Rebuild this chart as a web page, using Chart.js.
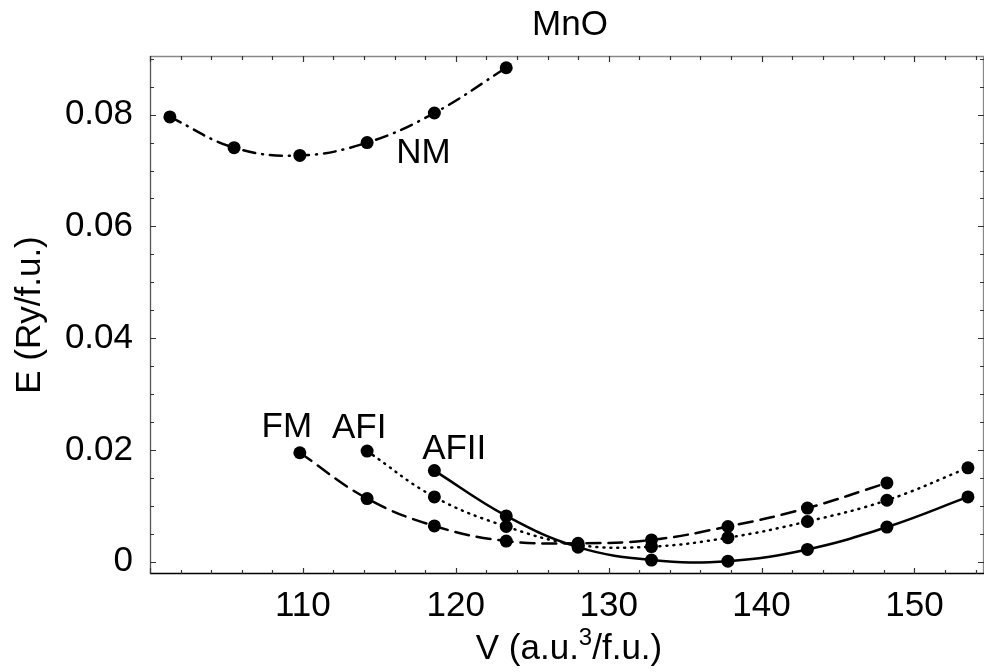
<!DOCTYPE html>
<html>
<head>
<meta charset="utf-8">
<script src="https://cdn.jsdelivr.net/npm/chart.js@4"></script>
<style>
  body { margin: 0; background: #fff; }
  #wrap { width: 984px; height: 672px; }
</style>
</head>
<body>
<div id="wrap"><canvas id="mnoChart" width="984" height="672"></canvas></div>
<script>
// volumes (a.u.^3/f.u.) and energies (Ry/f.u.)
var volNM = [101.3, 105.5, 109.8, 114.2, 118.6, 123.3];
var eNM = [0.0796, 0.0741, 0.0727, 0.0750, 0.0803, 0.0884];

var volFM = [109.8, 114.2, 118.6, 123.3, 128.0, 132.8, 137.8, 143.0, 148.2];
var eFM = [0.0195, 0.0113, 0.0064, 0.0037, 0.0033, 0.0039, 0.0063, 0.0096, 0.0141];

var volAFI = [114.2, 118.6, 123.3, 128.0, 132.8, 137.8, 143.0, 148.2, 153.5];
var eAFI = [0.0198, 0.0116, 0.0063, 0.0030, 0.0027, 0.0043, 0.0072, 0.0110, 0.0168];

var volAFII = [118.6, 123.3, 128.0, 132.8, 137.8, 143.0, 148.2, 153.5];
var eAFII = [0.0163, 0.0082, 0.0026, 0.0003, 0.0001, 0.0022, 0.0062, 0.0116];

var xTicks = [110, 120, 130, 140, 150];
var yTicks = [0, 0.02, 0.04, 0.06, 0.08];

// curve labels: [text, V, E] (left end / baseline of the text)
var curveLabels = [
    ['NM', 116.1, 0.0713],
    ['FM', 107.3, 0.0223],
    ['AFI', 111.9, 0.0221],
    ['AFII', 117.8, 0.0184]
];

var FONT = "'Liberation Sans', Arial, sans-serif";

function toPoints(xs, ys) {
    return xs.map(function (v, i) { return { x: v, y: ys[i] }; });
}

function curve(name, xs, ys, dash) {
    return {
        label: name,
        data: toPoints(xs, ys),
        showLine: true,
        tension: 0.4,
        borderColor: '#000',
        borderWidth: 2.5,
        borderDash: dash,
        borderCapStyle: 'round',
        pointRadius: 6.5,
        pointHoverRadius: 6.5,
        pointBackgroundColor: '#000',
        pointBorderWidth: 0
    };
}

// frame, inward tick marks, title, x title and curve names
var framePlugin = {
    id: 'frame',
    afterDraw: function (chart) {
        var ctx = chart.ctx, a = chart.chartArea;
        var x = chart.scales.x, y = chart.scales.y;
        ctx.save();
        ctx.lineWidth = 1.3;
        ctx.strokeStyle = '#888';
        ctx.beginPath();
        ctx.moveTo(a.left, a.top + 0.5); ctx.lineTo(a.right, a.top + 0.5);
        ctx.moveTo(a.right - 0.5, a.top); ctx.lineTo(a.right - 0.5, a.bottom);
        ctx.stroke();
        ctx.strokeStyle = '#555';
        ctx.beginPath();
        ctx.moveTo(a.left + 0.5, a.top); ctx.lineTo(a.left + 0.5, a.bottom);
        ctx.stroke();
        ctx.strokeStyle = '#000';
        ctx.beginPath();
        ctx.moveTo(a.left, a.bottom - 0.5); ctx.lineTo(a.right, a.bottom - 0.5);
        ctx.stroke();

        ctx.strokeStyle = '#333';
        ctx.lineWidth = 1.2;
        ctx.beginPath();
        for (var v = 100; v <= x.max; v += 2) {
            var px = Math.round(x.getPixelForValue(v)) + 0.5;
            var len = v % 10 === 0 ? 6 : 4;
            ctx.moveTo(px, a.bottom); ctx.lineTo(px, a.bottom - len);
            ctx.moveTo(px, a.top); ctx.lineTo(px, a.top + len);
        }
        for (var k = 0; k * 0.005 <= y.max; k++) {
            var py = Math.round(y.getPixelForValue(k * 0.005)) + 0.5;
            var l2 = k % 4 === 0 ? 6 : 4;
            ctx.moveTo(a.left, py); ctx.lineTo(a.left + l2, py);
            ctx.moveTo(a.right, py); ctx.lineTo(a.right - l2, py);
        }
        ctx.stroke();

        ctx.fillStyle = '#000';
        ctx.textBaseline = 'alphabetic';
        ctx.font = '35px ' + FONT;
        ctx.textAlign = 'center';
        ctx.fillText('MnO', 570, 35);

        // x axis title with superscript
        var p1 = 'V (a.u.', p2 = '3', p3 = '/f.u.)';
        ctx.font = '35px ' + FONT;
        var w1 = ctx.measureText(p1).width, w3 = ctx.measureText(p3).width;
        ctx.font = '24px ' + FONT;
        var w2 = ctx.measureText(p2).width;
        var sx = 569 - (w1 + w2 + w3) / 2;
        ctx.textAlign = 'left';
        ctx.font = '35px ' + FONT;
        ctx.fillText(p1, sx, 659);
        ctx.font = '24px ' + FONT;
        ctx.fillText(p2, sx + w1, 645);
        ctx.font = '35px ' + FONT;
        ctx.fillText(p3, sx + w1 + w2, 659);

        curveLabels.forEach(function (c) {
            ctx.fillText(c[0], x.getPixelForValue(c[1]), y.getPixelForValue(c[2]));
        });
        ctx.restore();
    }
};

var ctx = document.getElementById('mnoChart').getContext('2d');
var mnoChart = new Chart(ctx, {
    type: 'scatter',
    data: {
        datasets: [
            curve('NM', volNM, eNM, [12, 7, 1, 7]),
            curve('FM', volFM, eFM, [14, 8]),
            curve('AFI', volAFI, eAFI, [1, 6]),
            curve('AFII', volAFII, eAFII, [])
        ]
    },
    options: {
        responsive: false,
        devicePixelRatio: 1,
        animation: false,
        layout: { autoPadding: false, padding: { top: 56, right: 0, left: 0, bottom: 0 } },
        plugins: {
            legend: { display: false },
            tooltip: { enabled: false }
        },
        scales: {
            x: {
                type: 'linear',
                min: 100,
                max: 154.55,
                grid: { display: false },
                border: { display: false },
                afterFit: function (s) {
                    s.height = 98;
                    s.paddingLeft = 0;
                    s.paddingRight = 0;
                },
                afterBuildTicks: function (s) {
                    s.ticks = xTicks.map(function (v) { return { value: v }; });
                },
                ticks: {
                    autoSkip: false,
                    maxRotation: 0,
                    padding: 3,
                    color: '#000',
                    font: { family: FONT, size: 35 }
                }
            },
            y: {
                type: 'linear',
                min: -0.0022,
                max: 0.0905,
                grid: { display: false },
                border: { display: false },
                afterFit: function (s) {
                    s.width = 150;
                    s.paddingTop = 0;
                    s.paddingBottom = 0;
                },
                afterBuildTicks: function (s) {
                    s.ticks = yTicks.map(function (v) { return { value: v }; });
                },
                title: {
                    display: true,
                    text: 'E (Ry/f.u.)',
                    color: '#000',
                    font: { family: FONT, size: 35 },
                    padding: { top: 9, bottom: 0 }
                },
                ticks: {
                    autoSkip: false,
                    padding: 9,
                    color: '#000',
                    font: { family: FONT, size: 35 },
                    callback: function (v) { return v === 0 ? '0' : v.toFixed(2); }
                }
            }
        }
    },
    plugins: [framePlugin]
});
</script>
</body>
</html>
